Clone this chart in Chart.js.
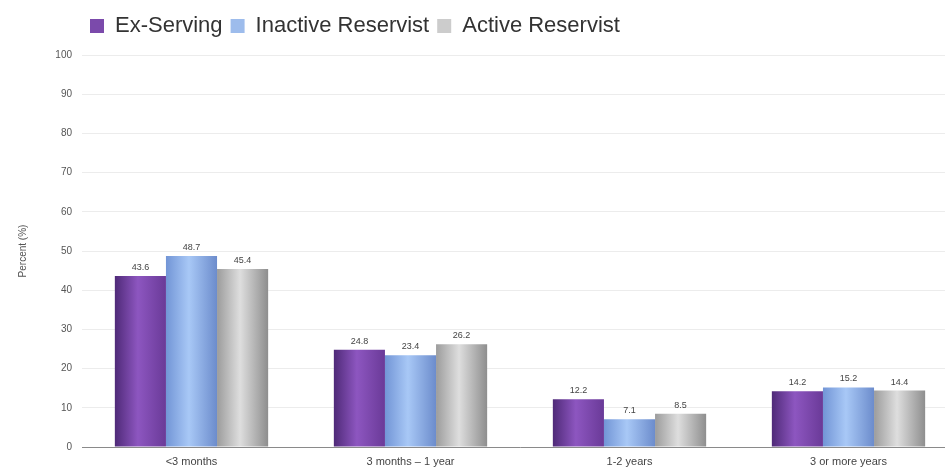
<!DOCTYPE html>
<html>
<head>
<meta charset="utf-8">
<script src="https://cdn.jsdelivr.net/npm/chart.js@4.4.1/dist/chart.umd.min.js"></script>
<style>
  html, body { margin: 0; padding: 0; background: #fff; overflow: hidden; }
  #wrap { width: 958px; height: 469px; }
</style>
</head>
<body>
<div id="wrap"><canvas id="myBarChart"></canvas></div>
<script>
// Dữ liệu
const categories = ["<3 months", "3 months \u2013 1 year", "1-2 years", "3 or more years"];
const exServing = [43.6, 24.8, 12.2, 14.2];
const inactiveReservist = [48.7, 23.4, 7.1, 15.2];
const activeReservist = [45.4, 26.2, 8.5, 14.4];
const yTicks = [0, 10, 20, 30, 40, 50, 60, 70, 80, 90, 100];

// màu gradient cho từng cột (trái, giữa, phải)
const shades = [
  ["#4f2a78", "#8d56c0", "#6a3a98"],
  ["#7295d6", "#a8c8f6", "#6c8ccc"],
  ["#9c9c9c", "#dedede", "#8e8e8e"],
];
const legendColors = ["#7b4aab", "#9dbcec", "#cccccc"];

const FONT = "'Liberation Sans', Arial, sans-serif";

// plugin tô gradient ngang cho cột
const barGradient = {
  id: "barGradient",
  beforeDatasetsDraw(chart) {
    const ctx = chart.ctx;
    chart.data.datasets.forEach((ds, i) => {
      const meta = chart.getDatasetMeta(i);
      meta.data.forEach((bar) => {
        const x0 = bar.x - bar.width / 2;
        const g = ctx.createLinearGradient(x0, 0, x0 + bar.width, 0);
        g.addColorStop(0, shades[i][0]);
        g.addColorStop(0.45, shades[i][1]);
        g.addColorStop(1, shades[i][2]);
        bar.options = { ...bar.options, backgroundColor: g };
      });
    });
  },
};

// plugin ghi giá trị trên đầu cột
const valueLabels = {
  id: "valueLabels",
  afterDatasetsDraw(chart) {
    const ctx = chart.ctx;
    ctx.save();
    ctx.font = "9px " + FONT;
    ctx.fillStyle = "#444";
    ctx.textAlign = "center";
    ctx.textBaseline = "bottom";
    chart.data.datasets.forEach((ds, i) => {
      chart.getDatasetMeta(i).data.forEach((bar, j) => {
        ctx.fillText(ds.data[j].toFixed(1), bar.x, bar.y - 4);
      });
    });
    ctx.restore();
  },
};

const data = {
  labels: categories,
  datasets: [
    { label: "Ex-Serving", data: exServing, backgroundColor: legendColors[0] },
    { label: "Inactive Reservist", data: inactiveReservist, backgroundColor: legendColors[1] },
    { label: "Active Reservist", data: activeReservist, backgroundColor: legendColors[2] },
  ],
};

const config = {
  type: "bar",
  data: data,
  plugins: [barGradient, valueLabels],
  options: {
    responsive: true,
    maintainAspectRatio: false,
    animation: false,
    layout: { padding: { top: 7, right: 0, bottom: 0, left: 0 } },
    datasets: {
      bar: { categoryPercentage: 0.7, barPercentage: 1.0, borderWidth: 0 },
    },
    plugins: {
      tooltip: { enabled: false },
      // khoảng trống giữa chú thích và biểu đồ
      subtitle: {
        display: true,
        text: "",
        weight: 500,
        padding: 0,
        font: { size: 8, lineHeight: 1 },
      },
      legend: {
        position: "top",
        align: "start",
        fullSize: false,
        labels: {
          boxWidth: 14,
          boxHeight: 14,
          padding: 8,
          color: "#333",
          font: { family: FONT, size: 22 },
        },
      },
    },
    scales: {
      x: {
        afterFit: (axis) => { axis.height = 22; },
        grid: { display: false, drawTicks: false },
        border: { display: true, color: "#8a8a8a", width: 1 },
        ticks: {
          color: "#444",
          padding: 8,
          font: { family: FONT, size: 11 },
        },
      },
      y: {
        min: 0,
        max: 100,
        afterBuildTicks: (axis) => { axis.ticks = yTicks.map((v) => ({ value: v })); },
        afterFit: (axis) => { axis.width = 82; },
        grid: { color: "#ececec", drawTicks: false },
        border: { display: false },
        ticks: {
          color: "#555",
          padding: 10,
          font: { family: FONT, size: 10 },
        },
        title: {
          display: true,
          text: "Percent (%)",
          color: "#555",
          padding: { top: 17, bottom: 10 },
          font: { family: FONT, size: 10 },
        },
      },
    },
  },
};

const myBarChart = new Chart(document.getElementById("myBarChart"), config);
</script>
</body>
</html>
